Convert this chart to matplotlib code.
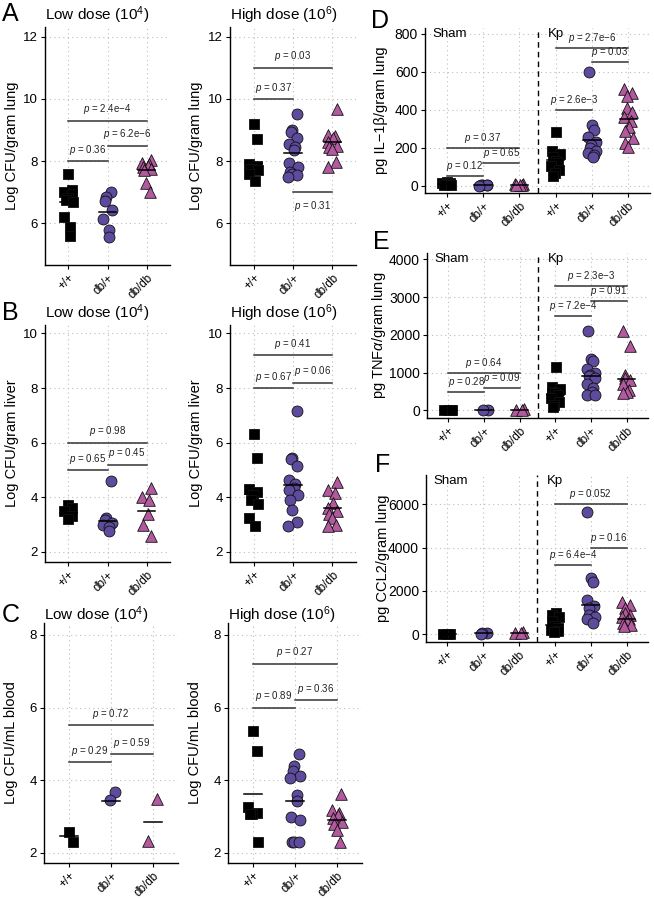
import numpy as np
import matplotlib.pyplot as plt

plt.rcParams['font.family'] = ['Liberation Sans', 'DejaVu Sans']
plt.rcParams['mathtext.fontset'] = 'custom'
plt.rcParams['mathtext.rm'] = 'Liberation Sans'
plt.rcParams['mathtext.it'] = 'Liberation Sans:italic'

W, H = 654, 899
genotypes = ['+/+', 'db/+', 'db/db']

# ---- data ----
# A: lung CFU (log)
a_low = [[7.6, 7.07, 7.0, 6.95, 6.8, 6.75, 6.7, 6.21, 5.87, 5.6],
         [7.02, 6.86, 6.72, 6.43, 6.13, 5.79, 5.57],
         [8.05, 7.95, 7.9, 7.85, 7.8, 7.75, 7.7, 7.3, 7.0]]
a_low_mid = [6.67, 6.35, 7.71]
a_low_p = [(1, 2, 8.0, '0.36'), (2, 3, 8.5, '6.2e\u22126'), (1, 3, 9.3, '2.4e\u22124')]

a_high = [[9.2, 8.72, 7.9, 7.85, 7.8, 7.75, 7.7, 7.6, 7.35],
          [9.5, 9.0, 8.95, 8.75, 8.55, 8.45, 8.35, 7.95, 7.8, 7.65, 7.6, 7.55, 7.5],
          [9.68, 8.85, 8.8, 8.75, 8.6, 8.5, 8.45, 8.4, 7.98, 7.8]]
a_high_mid = [7.95, 8.25, 8.6]
a_high_p = [(1, 2, 10.0, '0.37'), (1, 3, 11.0, '0.03'), (2, 3, 7.0, '0.31', 'below')]

# B: liver CFU (log)
b_low = [[3.7, 3.6, 3.5, 3.3, 3.2],
         [4.6, 3.25, 3.15, 3.05, 3.0, 2.9, 2.78],
         [4.35, 4.0, 3.9, 3.4, 3.0, 2.6]]
b_low_mid = [3.44, 3.13, 3.49]
b_low_p = [(1, 2, 5.0, '0.65'), (2, 3, 5.2, '0.45'), (1, 3, 6.0, '0.98')]

b_high = [[6.3, 5.45, 4.3, 4.2, 4.1, 3.9, 3.75, 3.25, 2.95],
          [7.15, 5.45, 5.4, 5.15, 4.65, 4.5, 4.35, 4.25, 4.1, 3.9, 3.55, 3.1, 2.95],
          [4.55, 4.25, 4.15, 3.8, 3.6, 3.5, 3.4, 3.25, 3.0, 2.95]]
b_high_mid = [4.12, 4.46, 3.61]
b_high_p = [(1, 2, 8.0, '0.67'), (2, 3, 8.2, '0.06'), (1, 3, 9.2, '0.41')]

# C: blood CFU (log)
c_low = [[2.58, 2.31], [3.68, 3.46], [3.49, 2.33]]
c_low_mid = [2.46, 3.43, 2.86]
c_low_p = [(1, 2, 4.5, '0.29'), (2, 3, 4.71, '0.59'), (1, 3, 5.52, '0.72')]

c_high = [[5.35, 4.8, 3.25, 3.1, 3.08, 3.08, 2.3],
          [4.72, 4.38, 4.25, 4.12, 4.05, 3.58, 3.42, 3.0, 2.9, 2.3, 2.3, 2.3],
          [3.62, 3.18, 3.1, 3.05, 2.95, 2.85, 2.8, 2.62, 2.3]]
c_high_mid = [3.63, 3.44, 2.9]
c_high_p = [(1, 2, 6.0, '0.89'), (2, 3, 6.2, '0.36'), (1, 3, 7.21, '0.27')]

# D: IL-1b (sham +/+, db/+, db/db, Kp +/+, db/+, db/db)
d_vals = [[18, 14, 12, 10, 8, 6, 5],
          [6, 4, 3, 2, 1],
          [10, 8, 6, 5, 3],
          [285, 185, 165, 150, 130, 120, 105, 85, 65, 50],
          [600, 320, 295, 255, 230, 215, 200, 185, 170, 160, 150],
          [510, 490, 470, 410, 390, 360, 340, 310, 290, 250, 225, 205]]
d_mid = [10, 2, 4, 135, 239, 350]
d_p = [(1, 2, 50, '0.12'), (2, 3, 120, '0.65'), (1, 3, 200, '0.37'),
       (4, 5, 400, '2.6e\u22123'), (5, 6, 650, '0.03'), (4, 6, 725, '2.7e\u22126')]

# E: TNFa
e_vals = [[20, 15, 10, 5],
          [8, 5],
          [40, 20, 10],
          [1150, 620, 560, 500, 450, 400, 330, 230, 150, 90],
          [2100, 1350, 1300, 1100, 1000, 950, 900, 850, 700, 600, 500, 420, 400],
          [2100, 1700, 950, 850, 800, 700, 550, 500, 450]]
e_mid = [10, 5, 15, 412, 900, 830]
e_p = [(1, 2, 500, '0.28'), (2, 3, 600, '0.09'), (1, 3, 1000, '0.64'),
       (4, 5, 2500, '7.2e\u22124'), (5, 6, 2900, '0.91'), (4, 6, 3300, '2.3e\u22123')]

# F: CCL2
f_vals = [[20, 10, 5],
          [60, 40, 30],
          [90, 60, 40],
          [980, 900, 800, 600, 400, 300, 200, 150, 100],
          [5650, 2600, 2400, 1600, 1300, 1200, 900, 800, 700, 500],
          [1500, 1350, 1200, 1000, 900, 800, 700, 600, 500, 450, 400]]
f_mid = [10, 40, 50, 430, 1350, 700]
f_p = [(4, 5, 3200, '6.4e\u22124'), (5, 6, 4000, '0.16'), (4, 6, 6000, '0.052')]

markers = ['s', 'o', '^']
fills = ['#000000', '#5e4b9e', '#b3599f']
sizes = [46, 62, 70]

fig = plt.figure(figsize=(W / 100, H / 100), dpi=100)


def add_ax(l, t, r, b):
    return fig.add_axes([l / W, 1 - b / H, (r - l) / W, (b - t) / H])


def style(ax, ylim, yticks, ncat, ylabel, lab_x, l, r, tfs):
    ax.set_xlim(0.4, ncat + 0.6)
    ax.set_ylim(*ylim)
    ax.set_yticks(yticks)
    ax.set_xticks(range(1, ncat + 1))
    ax.set_xticklabels((genotypes * 2)[:ncat], rotation=45, ha='right',
                       rotation_mode='anchor', fontsize=8.5)
    ax.tick_params(axis='y', labelsize=tfs, length=3, width=0.8, pad=2)
    ax.tick_params(axis='x', length=3, width=0.8, pad=2)
    for s in ['top', 'right']:
        ax.spines[s].set_visible(False)
    for s in ['left', 'bottom']:
        ax.spines[s].set_linewidth(1.0)
    ax.grid(True, linestyle=(0, (1, 3)), color='#bdbdbd', lw=0.8)
    ax.set_axisbelow(True)
    ax.set_ylabel(ylabel, fontsize=10.5)
    ax.yaxis.set_label_coords((lab_x - l) / (r - l), 0.5)


def draw_groups(ax, groups, mids, half):
    for i, (vals, mid) in enumerate(zip(groups, mids)):
        k = i % 3
        n = len(vals)
        x = i + 1 + 0.12 * np.sin(np.arange(n) * 2.4 + i)
        ax.scatter(x, vals, marker=markers[k], s=sizes[k], c=fills[k],
                   edgecolors='#111111', linewidths=0.6, zorder=3)
        ax.plot([i + 1 - half, i + 1 + half], [mid, mid], color='black',
                lw=1.1, zorder=4)


def draw_p(ax, brackets, ylim):
    off = (ylim[1] - ylim[0]) * 0.012
    for b in brackets:
        x1, x2, y, txt = b[:4]
        ax.plot([x1, x2], [y, y], color='#333333', lw=1.1, zorder=2)
        lab = '$p$ = ' + txt
        if len(b) > 4:
            ax.text((x1 + x2) / 2, y - off * 2.5, lab, ha='center', va='top',
                    fontsize=7, color='#222222')
        else:
            ax.text((x1 + x2) / 2, y + off * 1.5, lab, ha='center', va='bottom',
                    fontsize=7, color='#222222')


# ---- left columns ----
left_panels = [
    # (l, t, r, b, groups, mids, pvals, ylim, yticks, ylabel, label right x, title, tx, ty)
    (45, 27, 170, 265, a_low, a_low_mid, a_low_p, (4.66, 12.31), [6, 8, 10, 12],
     'Log CFU/gram lung', 19, 'Low dose (10$^{4}$)', 45, 15),
    (230, 27, 356, 265, a_high, a_high_mid, a_high_p, (4.66, 12.31), [6, 8, 10, 12],
     'Log CFU/gram lung', 203, 'High dose (10$^{6}$)', 230, 15),
    (45, 325, 170, 562, b_low, b_low_mid, b_low_p, (1.63, 10.31), [2, 4, 6, 8, 10],
     'Log CFU/gram liver', 19, 'Low dose (10$^{4}$)', 45, 313),
    (230, 325, 356, 562, b_high, b_high_mid, b_high_p, (1.63, 10.31), [2, 4, 6, 8, 10],
     'Log CFU/gram liver', 203, 'High dose (10$^{6}$)', 230, 313),
    (44, 623, 178, 863, c_low, c_low_mid, c_low_p, (1.72, 8.33), [2, 4, 6, 8],
     'Log CFU/mL blood', 18, 'Low dose (10$^{4}$)', 44, 615),
    (228, 623, 362, 863, c_high, c_high_mid, c_high_p, (1.72, 8.33), [2, 4, 6, 8],
     'Log CFU/mL blood', 202, 'High dose (10$^{6}$)', 228, 615),
]

for (l, t, r, b, groups, mids, pv, ylim, yt, ylab, labx, title, tx, ty) in left_panels:
    ax = add_ax(l, t, r, b)
    style(ax, ylim, yt, 3, ylab, labx, l, r, 9.5)
    draw_p(ax, pv, ylim)
    draw_groups(ax, groups, mids, 0.22)
    fig.text(tx / W, 1 - ty / H, title, fontsize=11, ha='left', va='center')

# ---- right column ----
right_panels = [
    (425, 28, 650, 193, d_vals, d_mid, d_p, (-38, 830), [0, 200, 400, 600, 800],
     'pg IL\u22121\u03b2/gram lung', 388),
    (427, 253, 648, 418, e_vals, e_mid, e_p, (-200, 4170), [0, 1000, 2000, 3000, 4000],
     'pg TNF$\\alpha$/gram lung', 388),
    (426, 475, 648, 642, f_vals, f_mid, f_p, (-355, 7355), [0, 2000, 4000, 6000],
     'pg CCL2/gram lung', 390),
]

for (l, t, r, b, groups, mids, pv, ylim, yt, ylab, labx) in right_panels:
    ax = add_ax(l, t, r, b)
    style(ax, ylim, yt, 6, ylab, labx, l, r, 10)
    ax.axvline(3.5, color='black', lw=1.0, linestyle=(0, (4, 3)), zorder=2)
    draw_p(ax, pv, ylim)
    draw_groups(ax, groups, mids, 0.24)
    ytop = ylim[0] + 0.963 * (ylim[1] - ylim[0])
    ax.text(0.6, ytop, 'Sham', fontsize=9.5, ha='left', va='center')
    ax.text(3.78, ytop, 'Kp', fontsize=9.5, ha='left', va='center')

# panel letters
for letter, x, y in [('A', 2, 14), ('B', 2, 313), ('C', 2, 615),
                     ('D', 371, 21), ('E', 373, 242), ('F', 375, 465)]:
    fig.text(x / W, 1 - y / H, letter, fontsize=18, ha='left', va='center')

fig.savefig('out.png', dpi=100)
